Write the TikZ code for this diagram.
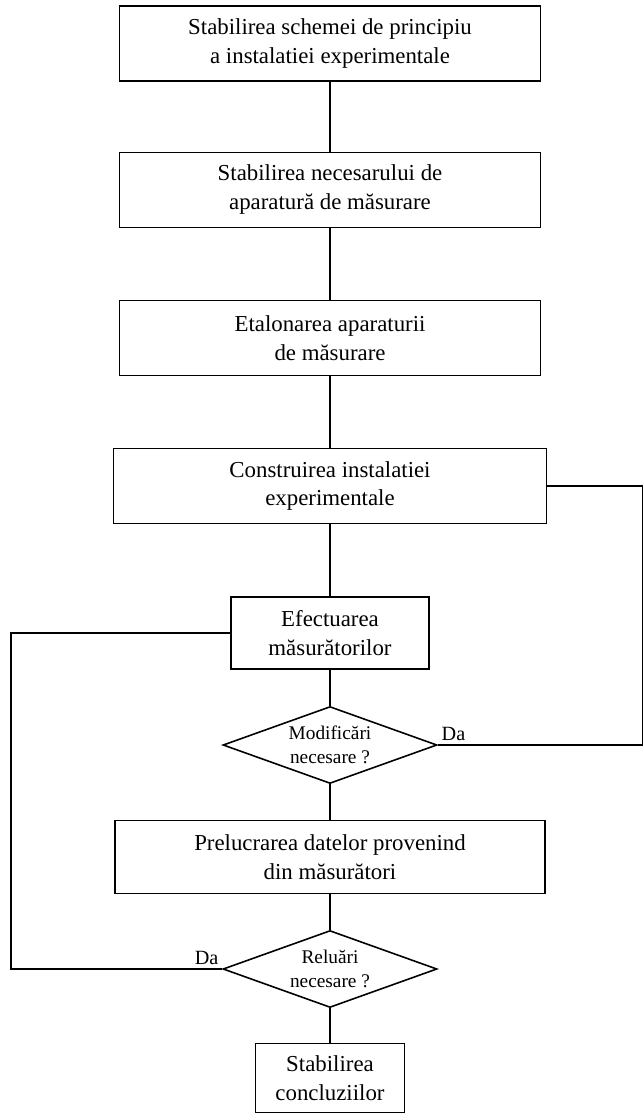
\documentclass[tikz,border=0pt]{standalone}
\usepackage{fontspec}
\setmainfont{Liberation Serif}
\usepackage{tikz}
\usetikzlibrary{shapes.geometric}

\begin{document}
\begin{tikzpicture}[
  stepbox/.style={rectangle, draw=black, line width=0.9pt, align=center, minimum height=1.5cm, fill=white, font=\fontsize{13}{16.5}\selectfont},
  decision/.style={diamond, draw=black, line width=0.9pt, inner sep=0pt, minimum width=4.28cm, minimum height=1.54cm,
    label={[align=center, font=\fontsize{11}{13.5}\selectfont]center:#1}},
  link/.style={draw=black, line width=0.9pt},
  yes/.style={font=\fontsize{11.5}{13}\selectfont, inner sep=2pt}
]
\useasboundingbox (0,0) rectangle (12.88,-22.26);

\node[stepbox, minimum width=8.42cm] (schema) at (6.6,-0.87) {Stabilirea schemei de principiu\\a instalatiei experimentale};
\node[stepbox, minimum width=8.42cm] (necesar) at (6.6,-3.8) {Stabilirea necesarului de\\aparatură de măsurare};
\node[stepbox, minimum width=8.42cm] (etalon) at (6.6,-6.76) {Etalonarea aparaturii\\de măsurare};
\node[stepbox, minimum width=8.66cm] (construire) at (6.6,-9.72) {Construirea instalatiei\\experimentale};
\node[stepbox, minimum width=3.96cm, minimum height=1.44cm] (masurare) at (6.6,-12.66) {Efectuarea\\măsurătorilor};
\node[decision={Modificări\\necesare ?}] (modif) at (6.6,-14.9) {};
\node[stepbox, minimum width=8.6cm, minimum height=1.46cm] (prelucrare) at (6.6,-17.14) {Prelucrarea datelor provenind\\din măsurători};
\node[decision={Reluări\\necesare ?}] (reluari) at (6.6,-19.38) {};
\node[stepbox, minimum width=2.98cm, minimum height=1.38cm] (concluzii) at (6.6,-21.56) {Stabilirea\\concluziilor};

\coordinate (dreapta) at (12.85,-9.72);
\coordinate (stanga) at (0.22,-12.66);

\draw[link] (schema) -- (necesar);
\draw[link] (necesar) -- (etalon);
\draw[link] (etalon) -- (construire);
\draw[link] (construire) -- (masurare);
\draw[link] (masurare) -- (modif);
\draw[link] (modif) -- (prelucrare);
\draw[link] (prelucrare) -- (reluari);
\draw[link] (reluari) -- (concluzii);

\draw[link] (modif.east) -- (modif.east -| dreapta) -- (dreapta) -- (construire.east);
\draw[link] (reluari.west) -- (reluari.west -| stanga) -- (stanga) -- (masurare.west);

\node[yes, anchor=south west] (da1) at (modif.east) {Da};
\node[yes, anchor=south east] (da2) at (reluari.west) {Da};
\end{tikzpicture}
\end{document}
